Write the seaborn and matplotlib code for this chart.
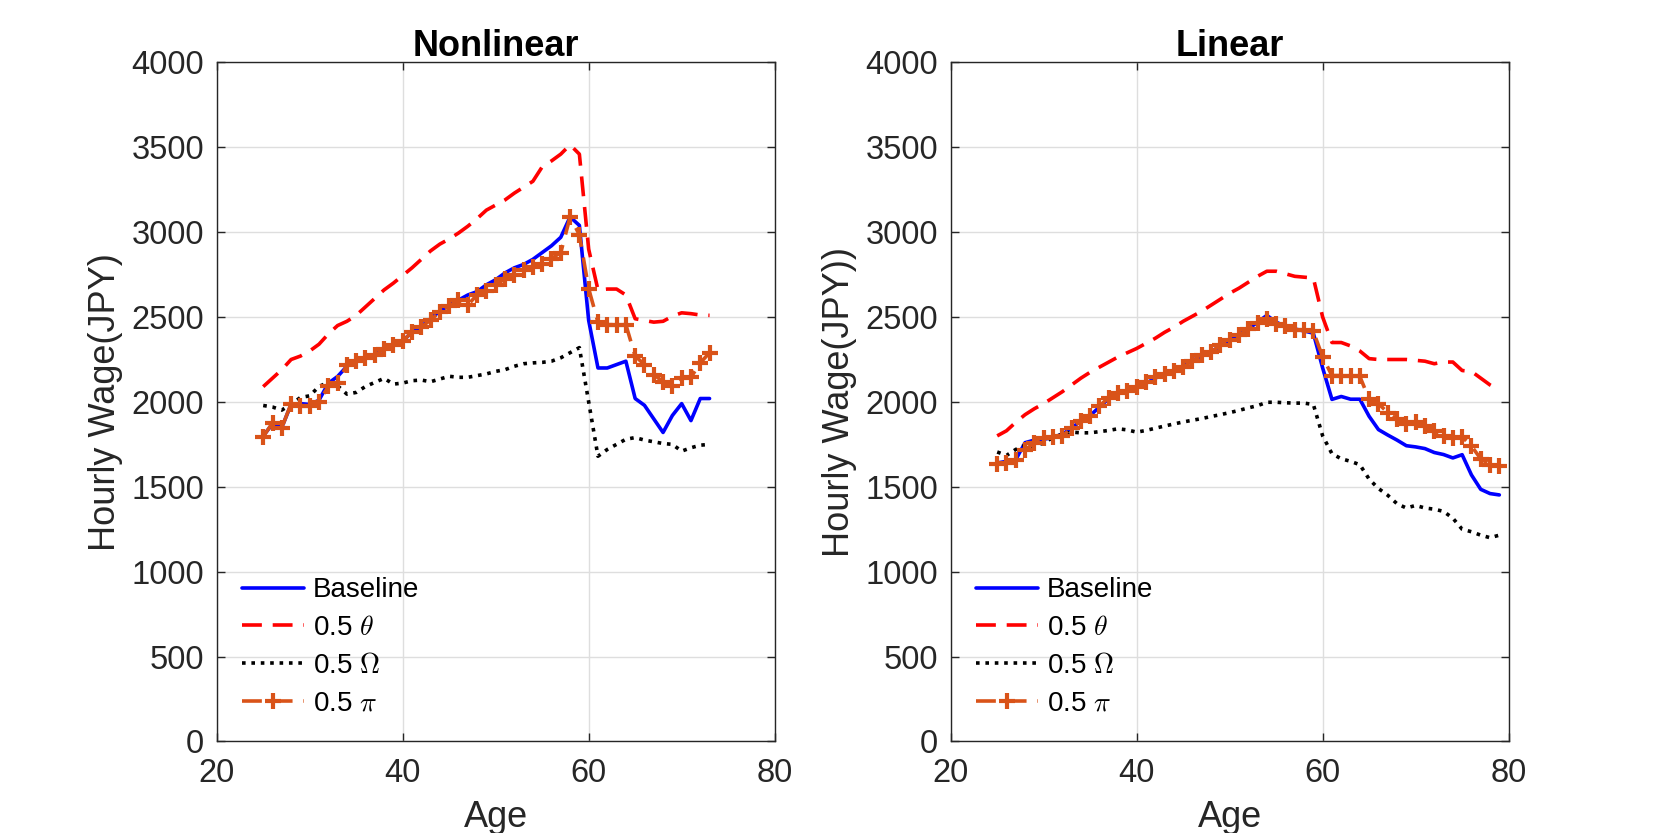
import matplotlib
matplotlib.use("Agg")
import matplotlib.pyplot as plt
import numpy as np
import pandas as pd
import seaborn as sns

# ages
ages_nl = list(range(25, 74))
ages_lin = list(range(25, 80))

# Nonlinear panel
nl_base = [1800, 1870, 1850, 1985, 1990, 1985, 2010, 2110, 2150, 2210,
           2240, 2258, 2275, 2315, 2340, 2360, 2410, 2445, 2490, 2535,
           2570, 2600, 2630, 2650, 2690, 2720, 2760, 2790, 2810, 2840,
           2880, 2920, 2970, 3090, 3040, 2480, 2200, 2200, 2220, 2240,
           2020, 1980, 1900, 1820, 1920, 1990, 1890, 2020, 2020]
nl_theta = [2090, 2140, 2190, 2250, 2270, 2300, 2340, 2400, 2450, 2475,
            2510, 2560, 2610, 2660, 2700, 2745, 2790, 2840, 2890, 2930,
            2960, 2995, 3035, 3080, 3130, 3160, 3190, 3230, 3265, 3300,
            3385, 3420, 3460, 3515, 3460, 2900, 2660, 2665, 2665, 2630,
            2490, 2480, 2470, 2475, 2505, 2525, 2520, 2512, 2510]
nl_omega = [1979, 1970, 1952, 1986, 2026, 2036, 2091, 2115, 2095, 2046,
            2056, 2091, 2115, 2139, 2105, 2111, 2125, 2129, 2119, 2135,
            2151, 2145, 2145, 2155, 2165, 2180, 2190, 2210, 2225, 2230,
            2233, 2240, 2260, 2290, 2320, 2000, 1680, 1720, 1750, 1780,
            1790, 1775, 1765, 1755, 1750, 1710, 1730, 1745, 1750]
nl_pi = [1795, 1877, 1847, 1990, 1976, 1976, 2000, 2091, 2110, 2218,
         2244, 2258, 2274, 2313, 2337, 2357, 2413, 2442, 2482, 2532,
         2565, 2601, 2571, 2631, 2651, 2690, 2725, 2750, 2775, 2795,
         2815, 2845, 2880, 3090, 2985, 2667, 2470, 2455, 2455, 2455,
         2270, 2220, 2160, 2120, 2095, 2140, 2145, 2230, 2290]

# Linear panel
lin_base = [1640, 1650, 1660, 1760, 1775, 1780, 1790, 1810, 1845, 1890,
            1920, 1970, 2020, 2050, 2065, 2085, 2110, 2140, 2165, 2185,
            2210, 2245, 2270, 2295, 2330, 2365, 2395, 2430, 2470, 2510,
            2470, 2445, 2430, 2418, 2405, 2200, 2015, 2032, 2016, 2016,
            1915, 1837, 1805, 1775, 1742, 1735, 1725, 1702, 1690, 1670,
            1689, 1570, 1485, 1460, 1452]
lin_theta = [1800, 1830, 1880, 1925, 1960, 1990, 2025, 2060, 2100, 2140,
             2175, 2205, 2235, 2265, 2290, 2315, 2345, 2375, 2410, 2440,
             2475, 2505, 2535, 2570, 2605, 2640, 2670, 2705, 2740, 2770,
             2770, 2755, 2740, 2735, 2730, 2500, 2350, 2350, 2330, 2300,
             2255, 2250, 2250, 2250, 2250, 2245, 2240, 2225, 2235, 2235,
             2185, 2180, 2140, 2100, 2070]
lin_omega = [1705, 1685, 1720, 1745, 1735, 1760, 1790, 1810, 1822, 1818,
             1818, 1825, 1832, 1842, 1835, 1822, 1832, 1845, 1858, 1870,
             1882, 1892, 1902, 1914, 1925, 1937, 1950, 1965, 1978, 1998,
             1998, 1995, 1993, 1993, 1985, 1800, 1695, 1665, 1650, 1630,
             1545, 1490, 1450, 1400, 1375, 1390, 1375, 1368, 1355, 1315,
             1250, 1235, 1215, 1200, 1215]
lin_pi = [1635, 1640, 1655, 1718, 1758, 1788, 1794, 1798, 1847, 1887,
          1917, 1976, 2026, 2052, 2065, 2085, 2115, 2145, 2165, 2185,
          2204, 2244, 2274, 2294, 2333, 2363, 2393, 2430, 2465, 2490,
          2460, 2445, 2425, 2423, 2415, 2265, 2155, 2155, 2155, 2150,
          2016, 1990, 1937, 1900, 1870, 1880, 1860, 1830, 1800, 1785,
          1795, 1740, 1665, 1630, 1625]

labels = ["Baseline", r"0.5 $\theta$", r"0.5 $\Omega$", r"0.5 $\pi$"]

sns.set_theme(style="white")
plt.rcParams["font.family"] = ["Liberation Sans", "DejaVu Sans"]
plt.rcParams["mathtext.fontset"] = "cm"

orange = (0.85, 0.325, 0.098)
dark = (0.15, 0.15, 0.15)
styles = [
    dict(color=(0, 0, 1), dashes=None, marker=None),
    dict(color=(1, 0, 0), dashes=(5.5, 3.0), marker=None),
    dict(color=(0, 0, 0), dashes=(1.0, 1.6), marker=None),
    dict(color=orange, dashes=(5.5, 3.0), marker="+"),
]

fig = plt.figure(figsize=(16.67, 8.33), dpi=100)
ax1 = fig.add_axes([0.13, 0.11, 0.3347, 0.815])
ax2 = fig.add_axes([0.5703, 0.11, 0.3347, 0.815])

panels = [
    (ax1, ages_nl, [nl_base, nl_theta, nl_omega, nl_pi], "Nonlinear", "Hourly Wage(JPY)"),
    (ax2, ages_lin, [lin_base, lin_theta, lin_omega, lin_pi], "Linear", "Hourly Wage(JPY))"),
]

for ax, ages, series, title, ylab in panels:
    for vals, lab, st in zip(series, labels, styles):
        df = pd.DataFrame({"Age": ages, "Wage": vals})
        sns.lineplot(data=df, x="Age", y="Wage", ax=ax, color=st["color"],
                     label=lab, linewidth=2.6, marker=st["marker"],
                     markersize=11, markeredgewidth=3,
                     markeredgecolor=st["color"])
        line = ax.get_lines()[-1]
        if st["dashes"] is not None:
            line.set_dashes(st["dashes"])
    ax.set_xlim(20, 80)
    ax.set_ylim(0, 4000)
    ax.set_xticks([20, 40, 60, 80])
    ax.set_yticks(np.arange(0, 4001, 500))
    ax.grid(True, color=(0.87, 0.87, 0.87), linewidth=1)
    ax.set_axisbelow(True)
    for s in ax.spines.values():
        s.set_color(dark)
        s.set_linewidth(1.0)
    ax.tick_params(direction="in", length=6, width=1, colors=dark,
                   labelsize=23.5, top=True, right=True, bottom=True, left=True,
                   labeltop=False, labelright=False)
    ax.tick_params(axis="y", pad=9)
    ax.tick_params(axis="x", pad=12)
    ax.set_xlabel("Age", fontsize=26, color=dark, labelpad=8)
    ax.set_ylabel(ylab, fontsize=26, color=dark, labelpad=6)
    ax.set_title(title, fontsize=26, fontweight="bold", pad=5, color="black")
    ax.legend(loc="lower left", frameon=False, fontsize=20, handlelength=2.25,
              borderaxespad=0.5, labelspacing=0.42, handletextpad=0.3,
              labelcolor="black")

fig.savefig("out.png", dpi=100, facecolor="white")
